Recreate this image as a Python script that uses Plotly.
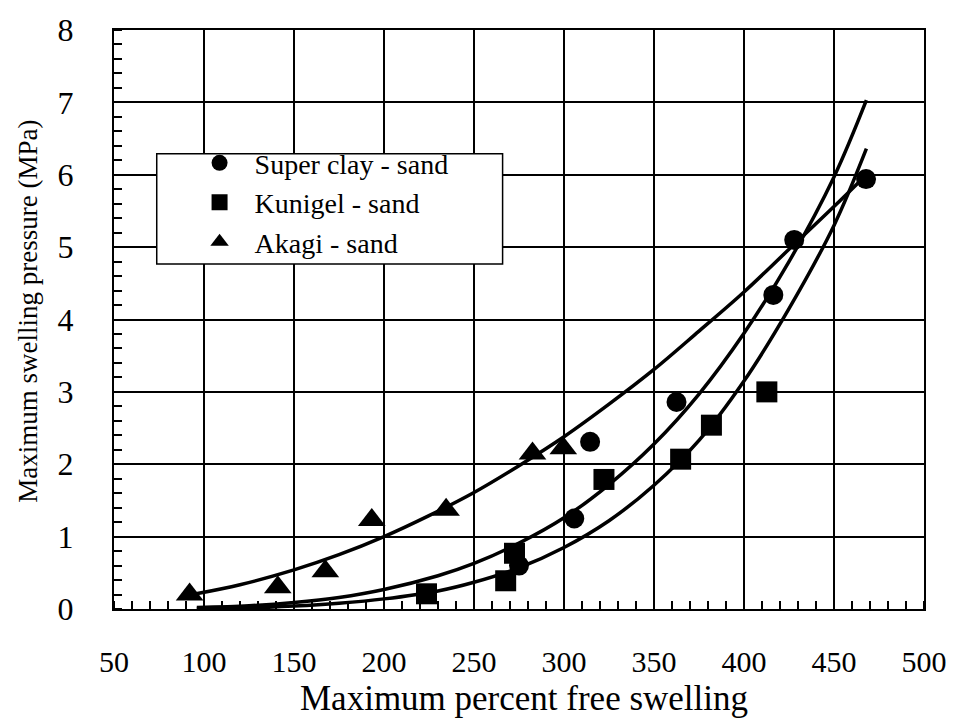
import plotly.graph_objects as go

# Measured points
super_x = [275, 305.7, 314.5, 362.5, 416.3, 427.9, 467.8]
super_y = [0.60, 1.25, 2.31, 2.86, 4.34, 5.10, 5.94]

kunigel_x = [223.6, 267.6, 272.5, 322.2, 364.8, 381.9, 412.7]
kunigel_y = [0.21, 0.39, 0.77, 1.79, 2.07, 2.54, 3.00]

akagi_x = [92, 141, 167.4, 193.2, 234.5, 282.5, 299.6]
akagi_y = [0.20, 0.30, 0.52, 1.23, 1.37, 2.15, 2.22]

# Fitted trend curves (sampled)
super_fit_x = [96, 125, 150, 175, 200, 230, 250, 275, 300, 325, 350, 375, 400, 425, 450, 468]
super_fit_y = [0.02, 0.045, 0.09, 0.16, 0.27, 0.46, 0.63, 0.91, 1.26, 1.72, 2.28, 2.97, 3.81, 4.80, 5.97, 7.03]

kunigel_fit_x = [96, 125, 150, 175, 200, 230, 250, 275, 300, 325, 350, 375, 400, 425, 450, 468]
kunigel_fit_y = [0.005, 0.015, 0.04, 0.08, 0.14, 0.25, 0.37, 0.57, 0.85, 1.22, 1.71, 2.33, 3.15, 4.15, 5.30, 6.36]

akagi_fit_x = [95.6, 120, 150, 175, 200, 225, 250, 275, 300, 325, 350, 375, 400, 425, 450, 468]
akagi_fit_y = [0.21, 0.335, 0.54, 0.75, 1.00, 1.29, 1.61, 1.98, 2.38, 2.83, 3.31, 3.84, 4.38, 4.97, 5.56, 6.00]

x_ticks = [50, 100, 150, 200, 250, 300, 350, 400, 450, 500]
y_ticks = [0, 1, 2, 3, 4, 5, 6, 7, 8]

FONT = "Liberation Serif, Times New Roman, Times, serif"

fig = go.Figure()

curve_line = dict(color="black", width=3.5, shape="spline", smoothing=1.0)
for fx, fy in [(akagi_fit_x, akagi_fit_y), (super_fit_x, super_fit_y), (kunigel_fit_x, kunigel_fit_y)]:
    fig.add_trace(go.Scatter(x=fx, y=fy, mode="lines", line=curve_line,
                             showlegend=False, hoverinfo="skip"))

fig.add_trace(go.Scatter(x=super_x, y=super_y, mode="markers", name="Super clay - sand",
                         marker=dict(symbol="circle", size=20, color="black")))
fig.add_trace(go.Scatter(x=kunigel_x, y=kunigel_y, mode="markers", name="Kunigel - sand",
                         marker=dict(symbol="square", size=21, color="black")))
fig.add_trace(go.Scatter(x=akagi_x, y=akagi_y, mode="markers", name="Akagi - sand",
                         marker=dict(symbol="triangle-up", size=24, color="black")))

# Legend frame
fig.add_shape(type="rect", xref="paper", yref="paper",
              x0=(157 - 114) / 815, x1=(505 - 114) / 815,
              y0=(609 - 258) / 589, y1=(609 - 146) / 589,
              line=dict(color="black", width=1.5), fillcolor="white", layer="above")

fig.update_layout(
    width=959, height=719,
    margin=dict(l=114, r=30, t=20, b=110),
    plot_bgcolor="white", paper_bgcolor="white",
    font=dict(family=FONT, color="black"),
    legend=dict(x=(185 - 114) / 815, y=(609 - 130) / 589, xanchor="left", yanchor="top",
                bgcolor="rgba(0,0,0,0)", borderwidth=0, itemwidth=60,
                font=dict(family=FONT, size=28, color="black"), tracegroupgap=0),
    annotations=[
        dict(text="Maximum percent free swelling", xref="paper", yref="paper",
             x=(527 - 114) / 815, y=(609 - 700) / 589, xanchor="center", yanchor="middle",
             showarrow=False, font=dict(family=FONT, size=35, color="black")),
        dict(text="Maximum swelling pressure (MPa)", xref="paper", yref="paper",
             x=(27.5 - 114) / 815, y=(609 - 306.5) / 589, xanchor="center", yanchor="middle",
             textangle=-90, showarrow=False, font=dict(family=FONT, size=27, color="black")),
    ],
)

fig.update_xaxes(
    range=[50, 500], tickvals=x_ticks, ticktext=[str(v) for v in x_ticks],
    showgrid=True, gridcolor="black", gridwidth=1.5,
    showline=True, linecolor="black", linewidth=2, mirror=True,
    ticks="", zeroline=False, ticklabelstandoff=25,
    tickfont=dict(family=FONT, size=30, color="black"),
    minor=dict(dtick=10, tick0=50, ticks="inside", ticklen=8, tickwidth=1.5,
               tickcolor="black", showgrid=False),
)
fig.update_yaxes(
    range=[0, 8], tickvals=y_ticks, ticktext=[str(v) for v in y_ticks],
    showgrid=True, gridcolor="black", gridwidth=1.5,
    showline=True, linecolor="black", linewidth=2, mirror=True,
    ticks="", zeroline=False, ticklabelstandoff=32,
    tickfont=dict(family=FONT, size=32, color="black"),
    minor=dict(dtick=0.2, tick0=0, ticks="inside", ticklen=8, tickwidth=1.5,
               tickcolor="black", showgrid=False),
)

fig.write_html("out.html")
